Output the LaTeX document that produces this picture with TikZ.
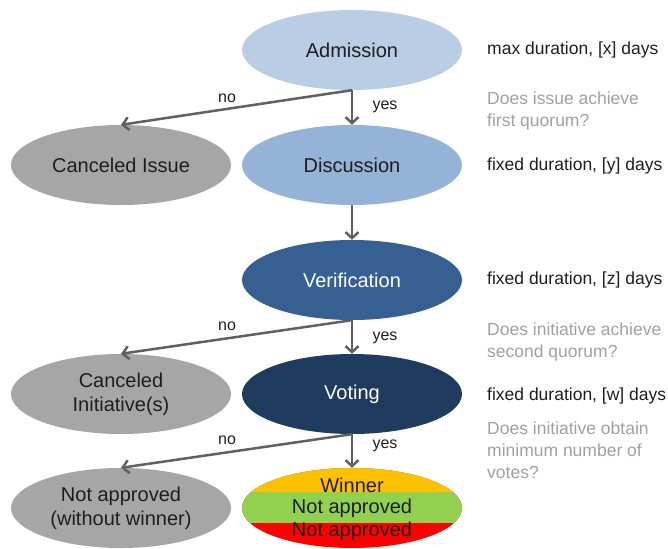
\documentclass[tikz,border=0pt]{standalone}
\usepackage{fontspec}
\setmainfont{Liberation Sans}
\usetikzlibrary{shapes.geometric,arrows.meta}
\definecolor{admc}{HTML}{B9CDE5}
\definecolor{discc}{HTML}{95B3D7}
\definecolor{verc}{HTML}{376092}
\definecolor{votc}{HTML}{1F3B5E}
\definecolor{grayc}{HTML}{A6A6A6}
\definecolor{winc}{HTML}{FFC000}
\definecolor{grnc}{HTML}{92D050}
\definecolor{redc}{HTML}{FF0000}
\definecolor{arrc}{HTML}{606060}
\definecolor{txtc}{HTML}{1E1E1E}
\definecolor{qc}{HTML}{A0A0A0}
\begin{document}
\begin{tikzpicture}[x=1pt,y=-1pt,
  stage/.style={ellipse,minimum width=220pt,minimum height=80pt,inner sep=0pt,
    font=\fontsize{20}{24}\selectfont,text=txtc,align=center},
  arr/.style={draw=arrc,line width=2.5pt,-{Straight Barb[length=6pt,width=13pt]}},
  lab/.style={font=\fontsize{16}{19}\selectfont,text=txtc},
  info/.style={anchor=west,font=\fontsize{17.5}{22}\selectfont,text=txtc,inner sep=0pt},
  quest/.style={anchor=west,font=\fontsize{17.5}{22}\selectfont,text=qc,align=left,inner sep=0pt},
  restext/.style={font=\fontsize{20}{24}\selectfont,text=txtc,inner sep=0pt}]
\useasboundingbox (0,0) rectangle (668,548);

% stages
\node[stage,fill=admc] (adm) at (352,50) {Admission};
\node[stage,fill=discc] (disc) at (352,165) {Discussion};
\node[stage,fill=verc,text=white] (ver) at (352,280) {Verification};
\node[stage,fill=votc,text=white] (vot) at (352,394) {Voting};
\node[stage,fill=grayc] (ci) at (121,165) {Canceled Issue};
\node[stage,fill=grayc] (cin) at (121,394) {Canceled\\Initiative(s)};
\node[stage,fill=grayc] (na) at (121,508) {Not approved\\(without winner)};
\node[stage,path picture={
   \fill[redc] (path picture bounding box.south west) rectangle (path picture bounding box.north east);
   \fill[grnc] (path picture bounding box.north west) rectangle ([yshift=-55pt]path picture bounding box.north east);
   \fill[winc] (path picture bounding box.north west) rectangle ([yshift=-24pt]path picture bounding box.north east);
 }] (res) at (352,508) {};
\node[restext] (rw) at (352,485) {Winner};
\node[restext] (rg) at (352,508) {Not approved};
\node[restext] (rr) at (352,531) {Not approved};

% connectors
\draw[arr] (adm.south) -- (disc.north);
\draw[arr] (adm.south) -- (ci.north);
\draw[arr] (disc.south) -- (ver.north);
\draw[arr] (ver.south) -- (vot.north);
\draw[arr] (ver.south) -- (cin.north);
\draw[arr] (vot.south) -- (res.north);
\draw[arr] (vot.south) -- (na.north);

% yes / no labels
\node[lab] (no1) at (227,98) {no};
\node[lab] (yes1) at (385,107) {yes};
\node[lab] (no2) at (227,326) {no};
\node[lab] (yes2) at (385,338) {yes};
\node[lab] (no3) at (227,440) {no};
\node[lab] (yes3) at (385,446) {yes};

% right-hand texts
\node[info] (i1) at (487,50) {max duration, [x] days};
\node[quest] (q1) at (487,111) {Does issue achieve\\first quorum?};
\node[info] (i2) at (487,166) {fixed duration, [y] days};
\node[info] (i3) at (487,280) {fixed duration, [z] days};
\node[quest] (q2) at (487,342) {Does initiative achieve\\second quorum?};
\node[info] (i4) at (487,396) {fixed duration, [w] days};
\node[quest] (q3) at (487,450) {Does initiative obtain\\minimum number of\\votes?};
\end{tikzpicture}
\end{document}
